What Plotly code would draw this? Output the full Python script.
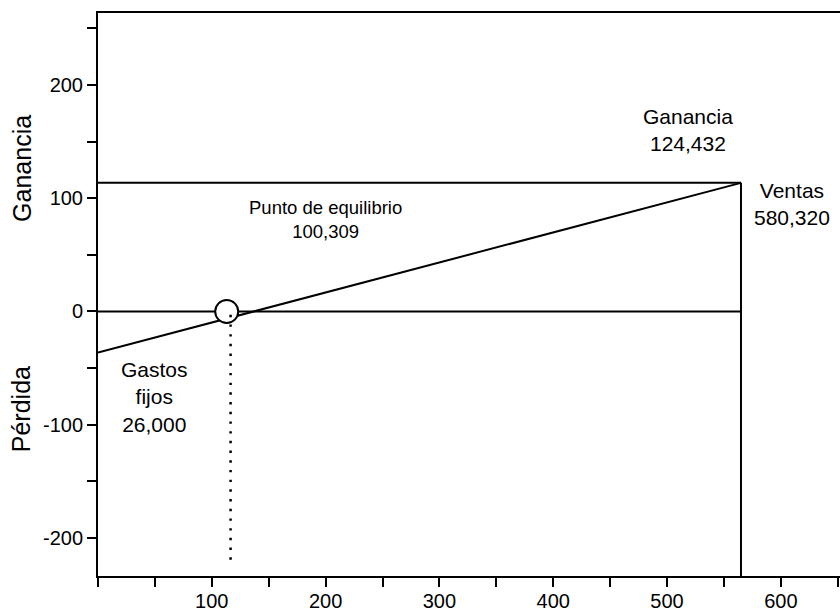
import plotly.graph_objects as go

# ---- data ----
result_line_x = [0, 565]          # sales volume (thousands)
result_line_y = [-36.3, 113.6]    # result: fixed-cost loss -> profit
profit_level = 113.6
sales_level = 565
zero_line_x = [0, 565]
zero_line_y = [0, 0]
breakeven_marker_x = [113.1]
breakeven_marker_y = [0]
breakeven_drop_x = [116.5, 116.5]
breakeven_drop_y = [-2.9, -224]
x_range = [0, 652]
y_range = [-233.6, 263.6]
x_major_ticks = [100, 200, 300, 400, 500, 600]
y_major_ticks = [-200, -100, 0, 100, 200]

label_profit = "Ganancia<br>124,432"
label_sales = "Ventas<br>580,320"
label_breakeven = "Punto de equilibrio<br>100,309"
label_fixed = "Gastos<br>fijos<br>26,000"
axis_top_label = "Ganancia"
axis_bottom_label = "Pérdida"

FONT = "Liberation Sans, Arial, sans-serif"
INK = "#000000"

fig = go.Figure()

# main result line
fig.add_trace(go.Scatter(x=result_line_x, y=result_line_y, mode="lines",
                         line=dict(color=INK, width=2), hoverinfo="skip"))
# zero line
fig.add_trace(go.Scatter(x=zero_line_x, y=zero_line_y, mode="lines",
                         line=dict(color=INK, width=2), hoverinfo="skip"))
# profit horizontal and sales vertical
fig.add_trace(go.Scatter(x=[0, sales_level], y=[profit_level, profit_level], mode="lines",
                         line=dict(color=INK, width=2), hoverinfo="skip"))
fig.add_trace(go.Scatter(x=[sales_level, sales_level], y=[profit_level, y_range[0]], mode="lines",
                         line=dict(color=INK, width=2), hoverinfo="skip", cliponaxis=False))
# break-even circle
fig.add_trace(go.Scatter(x=breakeven_marker_x, y=breakeven_marker_y, mode="markers",
                         marker=dict(size=23, color="white", line=dict(color=INK, width=2)),
                         hoverinfo="skip"))
# dotted drop line
fig.add_trace(go.Scatter(x=breakeven_drop_x, y=breakeven_drop_y, mode="lines",
                         line=dict(color=INK, width=2.5, dash="2.4px,7.3px"), hoverinfo="skip"))

ann_font = dict(family=FONT, size=21, color=INK)
annotations = [
    dict(x=518.4, y=160.7, text=label_profit, font=ann_font),
    dict(x=609.8, y=95.2, text=label_sales, font=ann_font),
    dict(x=200.2, y=81.1, text=label_breakeven, font=dict(family=FONT, size=18.5, color=INK)),
    dict(x=49.8, y=-75.4, text=label_fixed, font=ann_font),
]
for a in annotations:
    a.update(xref="x", yref="y", showarrow=False, align="center",
             xanchor="center", yanchor="middle")
annotations += [
    dict(x=-0.1033, y=126.2, xref="paper", yref="y", text=axis_top_label,
         textangle=-90, showarrow=False, xanchor="center", yanchor="middle",
         font=dict(family=FONT, size=25, color=INK)),
    dict(x=-0.1033, y=-86, xref="paper", yref="y", text=axis_bottom_label,
         textangle=-90, showarrow=False, xanchor="center", yanchor="middle",
         font=dict(family=FONT, size=25, color=INK)),
]

tick_style = dict(ticks="outside", ticklen=9, tickwidth=1.8, tickcolor=INK)

fig.update_layout(
    template="none",
    width=840, height=612,
    margin=dict(l=98, r=0, t=13, b=36, pad=0),
    paper_bgcolor="white", plot_bgcolor="white",
    showlegend=False,
    font=dict(family=FONT, color=INK),
    annotations=annotations,
    xaxis=dict(range=x_range, showgrid=False, zeroline=False,
               showline=True, linecolor=INK, linewidth=2, mirror=True,
               tickvals=x_major_ticks, ticktext=[str(v) for v in x_major_ticks],
               tickfont=dict(family=FONT, size=20, color=INK),
               ticklabelstandoff=-3,
               minor=dict(dtick=50, tick0=50, showgrid=False, **tick_style),
               fixedrange=True, **tick_style),
    yaxis=dict(range=y_range, showgrid=False, zeroline=False,
               showline=True, linecolor=INK, linewidth=2, mirror=False,
               tickvals=y_major_ticks, ticktext=[str(v) for v in y_major_ticks],
               tickfont=dict(family=FONT, size=20, color=INK),
               minor=dict(dtick=50, tick0=0, showgrid=False, **tick_style),
               fixedrange=True, **tick_style),
)

fig.write_html(
    "out.html",
    config={"displayModeBar": False},
    post_script="document.body.style.margin='0';document.body.style.padding='0';"
                "document.body.style.overflow='hidden';",
)
